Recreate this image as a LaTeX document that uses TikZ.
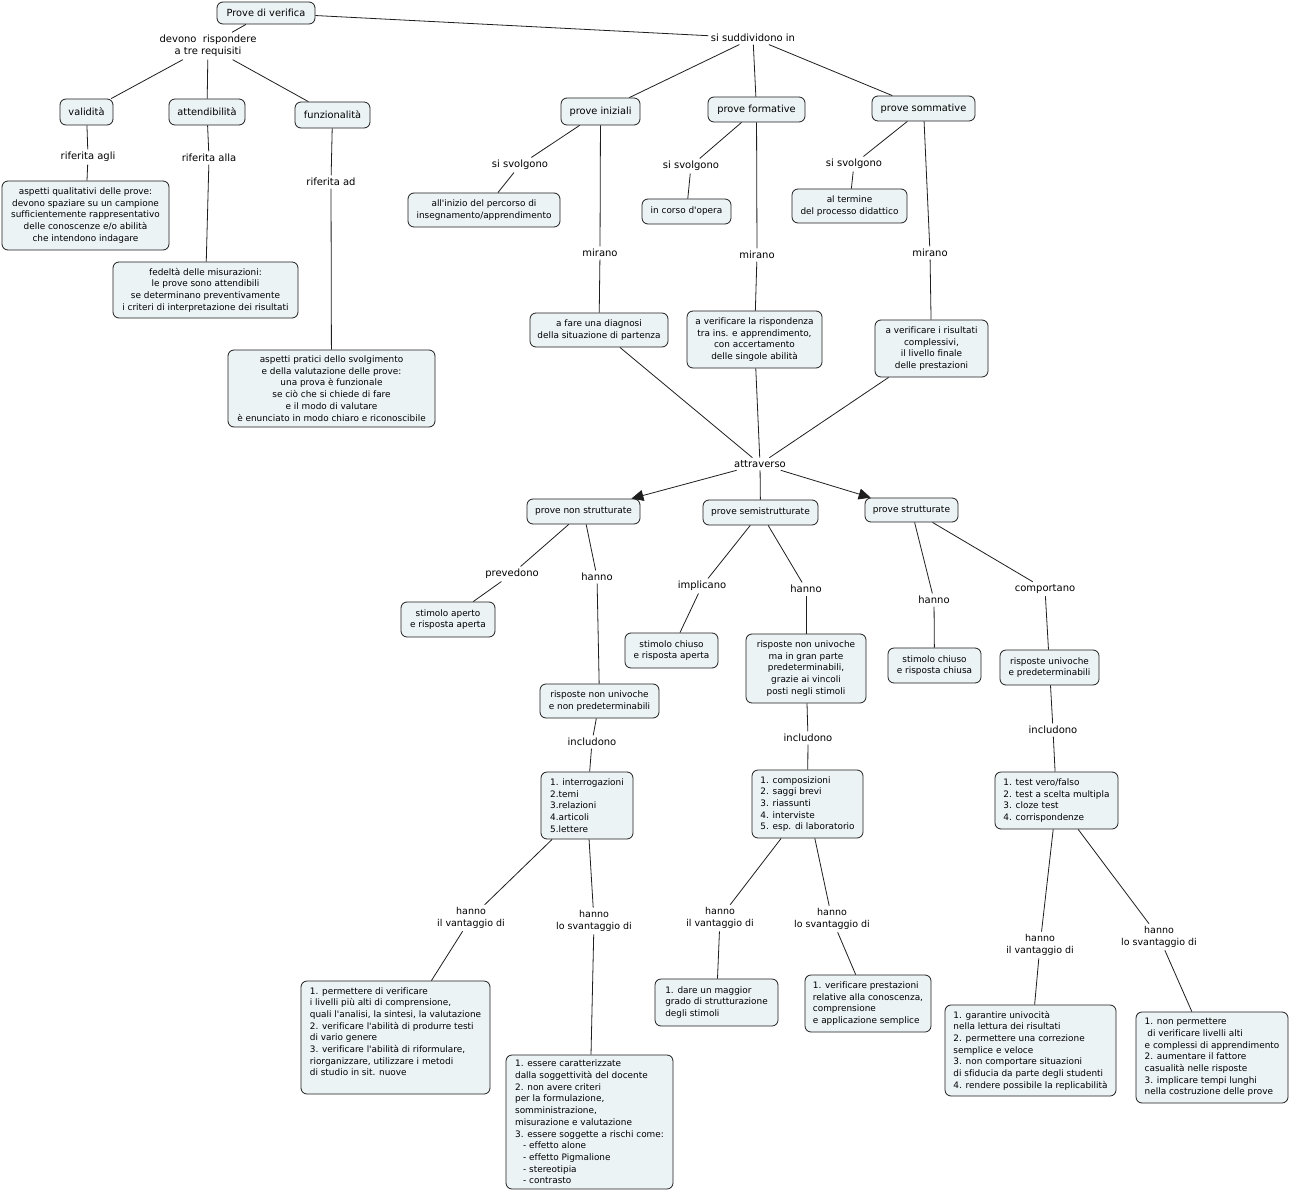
\documentclass[tikz,border=0pt]{standalone}
\usepackage{fontspec}
\setmainfont{DejaVu Sans}[Ligatures={TeXOff,NoCommon}]
\usetikzlibrary{arrows.meta}
\definecolor{boxfill}{RGB}{236,243,245}
\definecolor{lnkc}{RGB}{30,30,30}
\begin{document}
\begin{tikzpicture}[x=1pt,y=-1pt]
\tikzset{
 cbox/.style={draw=lnkc, fill=boxfill, rounded corners=6pt, line width=0.8pt, inner xsep=0pt, inner ysep=0pt, align=center},
 lbox/.style={cbox, align=left},
 fa/.style={font=\fontsize{9.8}{12}\selectfont},
 fb/.style={font=\fontsize{9}{11.8}\selectfont},
 fc/.style={font=\fontsize{8.9}{11.7}\selectfont},
 lbl/.style={inner sep=2.5pt, align=center, font=\fontsize{10}{12.2}\selectfont},
 lbs/.style={inner sep=2.5pt, align=center, font=\fontsize{9.5}{12}\selectfont},
 lnk/.style={draw=lnkc, line width=0.8pt},
 arr/.style={lnk, -{Triangle[length=12pt,width=11pt]}},
}
\useasboundingbox (0,0) rectangle (1290,1190);
\fill[white] (0,0) rectangle (1290,1190);

% ---------- concept boxes ----------
\node[cbox,fa,minimum width=98,minimum height=22] (pv) at (266,13) {Prove di verifica};
\node[cbox,fa,minimum width=53,minimum height=26] (val) at (86.5,112) {validità};
\node[cbox,fa,minimum width=76,minimum height=26] (atd) at (207,112) {attendibilità};
\node[cbox,fa,minimum width=75,minimum height=26] (fun) at (332.5,115) {funzionalità};
\node[cbox,fc,minimum width=167,minimum height=69] (aq) at (85.5,215.5) {aspetti qualitativi delle prove:\\devono spaziare su un campione\\sufficientemente rappresentativo\\delle conoscenze e/o abilità\\che intendono indagare};
\node[cbox,fc,minimum width=185,minimum height=56] (fed) at (205.5,290) {fedeltà delle misurazioni:\\le prove sono attendibili\\se determinano preventivamente\\i criteri di interpretazione dei risultati};
\node[cbox,fc,minimum width=207,minimum height=77] (ap) at (331.5,388.5) {aspetti pratici dello svolgimento\\e della valutazione delle prove:\\una prova è funzionale\\se ciò che si chiede di fare\\e il modo di valutare\\è enunciato in modo chiaro e riconoscibile};

\node[cbox,fa,minimum width=79,minimum height=27] (pi) at (600.5,111.5) {prove iniziali};
\node[cbox,fa,minimum width=97,minimum height=25] (pf) at (756.5,109.5) {prove formative};
\node[cbox,fa,minimum width=103,minimum height=25] (ps) at (923.5,108.5) {prove sommative};
\node[cbox,fc,minimum width=152,minimum height=34] (ini) at (484,210) {all'inizio del percorso di\\insegnamento/apprendimento};
\node[cbox,fc,minimum width=89,minimum height=25] (cor) at (686.5,211.5) {in corso d'opera};
\node[cbox,fc,minimum width=115,minimum height=34] (ter) at (849.5,206) {al termine\\del processo didattico};
\node[cbox,fc,minimum width=138,minimum height=34] (dia) at (599,330) {a fare una diagnosi\\della situazione di partenza};
\node[cbox,fc,minimum width=135,minimum height=57] (ris) at (754.5,339.5) {a verificare la rispondenza\\tra ins. e apprendimento,\\con accertamento\\delle singole abilità};
\node[cbox,fc,minimum width=113,minimum height=57] (fin) at (931.5,348.5) {a verificare i risultati\\complessivi,\\il livello finale\\delle prestazioni};

\node[cbox,fb,minimum width=113,minimum height=25] (pns) at (583.5,511.5) {prove non strutturate};
\node[cbox,fb,minimum width=115,minimum height=25] (pss) at (760.5,512.5) {prove semistrutturate};
\node[cbox,fb,minimum width=93,minimum height=24] (pst) at (911.5,510) {prove strutturate};

\node[cbox,fc,minimum width=94,minimum height=35] (sa) at (448,619.5) {stimolo aperto\\e risposta aperta};
\node[cbox,fc,minimum width=93,minimum height=35] (sc) at (671.5,650.5) {stimolo chiuso\\e risposta aperta};
\node[cbox,fc,minimum width=120,minimum height=69] (rnm) at (806,668.5) {risposte non univoche\\ma in gran parte\\predeterminabili,\\grazie ai vincoli\\posti negli stimoli};
\node[cbox,fc,minimum width=93,minimum height=35] (scc) at (934.5,665.5) {stimolo chiuso\\e risposta chiusa};
\node[cbox,fc,minimum width=99,minimum height=35] (ru) at (1049.5,667.5) {risposte univoche\\e predeterminabili};
\node[cbox,fc,minimum width=119,minimum height=34] (rnn) at (599.5,701) {risposte non univoche\\e non predeterminabili};

\node[lbox,fc,minimum width=92,minimum height=67] (l1) at (587,805.5) {1. interrogazioni\\2.temi\\3.relazioni\\4.articoli\\5.lettere};
\node[lbox,fc,minimum width=111,minimum height=68] (l2) at (807.5,804) {1. composizioni\\2. saggi brevi\\3. riassunti\\4. interviste\\5. esp. di laboratorio};
\node[lbox,fc,minimum width=123,minimum height=57] (l3) at (1056.5,800.5) {1. test vero/falso\\2. test a scelta multipla\\3. cloze test\\4. corrispondenze};

\node[lbox,fc,minimum width=189,minimum height=113] (v1) at (395.5,1037.5) {1. permettere di verificare\\i livelli più alti di comprensione,\\quali l'analisi, la sintesi, la valutazione\\2. verificare l'abilità di produrre testi\\di vario genere\\3. verificare l'abilità di riformulare,\\riorganizzare, utilizzare i metodi\\di studio in sit. nuove\\ \mbox{}};
\node[lbox,fc,minimum width=167,minimum height=134] (s1) at (589.5,1122) {1. essere caratterizzate\\dalla soggettività del docente\\2. non avere criteri\\per la formulazione,\\somministrazione,\\misurazione e valutazione\\3. essere soggette a rischi come:\\\hspace*{0.9em}- effetto alone\\\hspace*{0.9em}- effetto Pigmalione\\\hspace*{0.9em}- stereotipia\\\hspace*{0.9em}- contrasto};
\node[lbox,fc,minimum width=123,minimum height=47] (v2) at (716.5,1002.5) {1. dare un maggior\\grado di strutturazione\\degli stimoli};
\node[lbox,fc,minimum width=126,minimum height=57] (s2) at (868,1003.5) {1. verificare prestazioni\\relative alla conoscenza,\\comprensione\\e applicazione semplice};
\node[lbox,fc,minimum width=171,minimum height=91] (v3) at (1030.5,1050.5) {1. garantire univocità\\nella lettura dei risultati\\2. permettere una correzione\\semplice e veloce\\3. non comportare situazioni\\di sfiducia da parte degli studenti\\4. rendere possibile la replicabilità};
\node[lbox,fc,minimum width=152,minimum height=91] (s3) at (1212,1057.5) {1. non permettere\\\hspace*{0.3em}di verificare livelli alti\\e complessi di apprendimento\\2. aumentare il fattore\\casualità nelle risposte\\3. implicare tempi lunghi\\nella costruzione delle prove};

% ---------- link labels ----------
\node[lbl] (dev) at (208,46) {devono\ \ rispondere\\a tre requisiti};
\node[lbl] (sud) at (753,38) {si suddividono in};
\node[lbl] (rag) at (88,157) {riferita agli};
\node[lbl] (ral) at (209,158) {riferita alla};
\node[lbl] (rad) at (331,182) {riferita ad};
\node[lbl] (sv1) at (520,165) {si svolgono};
\node[lbl] (sv2) at (691,166) {si svolgono};
\node[lbl] (sv3) at (854,164) {si svolgono};
\node[lbl] (mi1) at (600,253) {mirano};
\node[lbl] (mi2) at (757,255) {mirano};
\node[lbl] (mi3) at (930,253) {mirano};
\node[lbl] (att) at (760,464) {attraverso};
\node[lbl] (prev) at (512,574) {prevedono};
\node[lbl] (han1) at (597,577) {hanno};
\node[lbl] (imp) at (702,586) {implicano};
\node[lbl] (han2) at (806,589) {hanno};
\node[lbl] (han3) at (934,600) {hanno};
\node[lbl] (comp) at (1045,589) {comportano};
\node[lbl] (inc1) at (592,742) {includono};
\node[lbl] (inc2) at (808,738) {includono};
\node[lbl] (inc3) at (1053,730) {includono};
\node[lbs] (hv1) at (471,918) {hanno\\il vantaggio di};
\node[lbs] (hs1) at (594,921) {hanno\\lo svantaggio di};
\node[lbs] (hv2) at (720,918) {hanno\\il vantaggio di};
\node[lbs] (hs2) at (832,919) {hanno\\lo svantaggio di};
\node[lbs] (hv3) at (1040,945) {hanno\\il vantaggio di};
\node[lbs] (hs3) at (1159,937) {hanno\\lo svantaggio di};

% ---------- connectors ----------
\draw[lnk] (pv) -- (dev);
\draw[lnk] (pv) -- (sud);
\draw[lnk] (dev) -- (val);
\draw[lnk] (dev) -- (atd);
\draw[lnk] (dev) -- (fun);
\draw[lnk] (val) -- (rag);
\draw[lnk] (rag) -- (aq);
\draw[lnk] (atd) -- (ral);
\draw[lnk] (ral) -- (fed);
\draw[lnk] (fun) -- (rad);
\draw[lnk] (rad) -- (ap);

\draw[lnk] (sud) -- (pi);
\draw[lnk] (sud) -- (pf);
\draw[lnk] (sud) -- (ps);
\draw[lnk] (pi) -- (sv1);
\draw[lnk] (sv1) -- (ini);
\draw[lnk] (pi) -- (mi1);
\draw[lnk] (mi1) -- (dia);
\draw[lnk] (pf) -- (sv2);
\draw[lnk] (sv2) -- (cor);
\draw[lnk] (pf) -- (mi2);
\draw[lnk] (mi2) -- (ris);
\draw[lnk] (ps) -- (sv3);
\draw[lnk] (sv3) -- (ter);
\draw[lnk] (ps) -- (mi3);
\draw[lnk] (mi3) -- (fin);

\draw[lnk] (dia) -- (att);
\draw[lnk] (ris) -- (att);
\draw[lnk] (fin) -- (att);
\draw[arr] (att) -- (pns);
\draw[lnk] (att) -- (pss);
\draw[arr] (att) -- (pst);

\draw[lnk] (pns) -- (prev);
\draw[lnk] (prev) -- (sa);
\draw[lnk] (pns) -- (han1);
\draw[lnk] (han1) -- (rnn);
\draw[lnk] (pss) -- (imp);
\draw[lnk] (imp) -- (sc);
\draw[lnk] (pss) -- (han2);
\draw[lnk] (han2) -- (rnm);
\draw[lnk] (pst) -- (han3);
\draw[lnk] (han3) -- (scc);
\draw[lnk] (pst) -- (comp);
\draw[lnk] (comp) -- (ru);

\draw[lnk] (rnn) -- (inc1);
\draw[lnk] (inc1) -- (l1);
\draw[lnk] (rnm) -- (inc2);
\draw[lnk] (inc2) -- (l2);
\draw[lnk] (ru) -- (inc3);
\draw[lnk] (inc3) -- (l3);

\draw[lnk] (l1) -- (hv1);
\draw[lnk] (hv1) -- (v1);
\draw[lnk] (l1) -- (hs1);
\draw[lnk] (hs1) -- (s1);
\draw[lnk] (l2) -- (hv2);
\draw[lnk] (hv2) -- (v2);
\draw[lnk] (l2) -- (hs2);
\draw[lnk] (hs2) -- (s2);
\draw[lnk] (l3) -- (hv3);
\draw[lnk] (hv3) -- (v3);
\draw[lnk] (l3) -- (hs3);
\draw[lnk] (hs3) -- (s3);
\end{tikzpicture}
\end{document}
